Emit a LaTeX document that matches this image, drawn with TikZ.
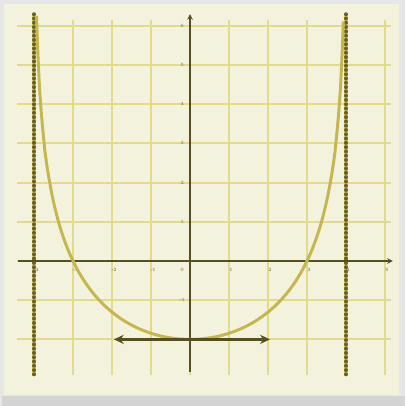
\documentclass[tikz,border=0pt]{standalone}
\usetikzlibrary{arrows.meta}
\definecolor{outerbg}{RGB}{230,230,230}
\definecolor{panel}{RGB}{243,242,220}
\definecolor{gridc}{RGB}{226,219,142}
\definecolor{axisc}{RGB}{86,80,32}
\definecolor{curvec}{RGB}{198,182,80}
\definecolor{asymy}{RGB}{214,200,100}
\definecolor{asymd}{RGB}{105,96,38}
\definecolor{labc}{RGB}{140,135,85}
\definecolor{shadowc}{RGB}{212,212,212}
\tikzset{
  gridline/.style={draw=gridc, line width=3pt},
  axisline/.style={draw=axisc, line width=3.2pt},
  curveline/.style={draw=curvec, line width=4.2pt},
  asymbase/.style={draw=asymy, line width=6pt},
  asymdots/.style={draw=asymd, line width=5pt, line cap=round, dash pattern=on 0.5pt off 5.6pt},
  ticklab/.style={font=\fontsize{7}{7}\selectfont\bfseries, text=labc, inner sep=0pt},
  hlabel/.style={draw=axisc, line width=3.4pt, {Stealth[length=14pt,width=13pt]}-{Stealth[length=14pt,width=13pt]}}
}
\begin{document}
\begin{tikzpicture}[x=0.05cm,y=-0.05cm]
  % background
  \useasboundingbox (0,0) rectangle (405,406);
  \fill[outerbg] (0,0) rectangle (405,406);
  \fill[shadowc] (2,396) rectangle (405,406);
  \fill[panel] (4,4) rectangle (399,395);
  \begin{scope}[shift={(190,261)}, x=1.95cm, y=1.96cm]
    % grid
    \foreach \gx in {-4,-3,...,5} \draw[gridline] (\gx,6.15) -- (\gx,-2.9);
    \foreach \gy in {-2,-1,...,6} \draw[gridline] (-4.44,\gy) -- (5.15,\gy);
    % asymptotes
    \draw[asymbase] (-4,6.3) -- (-4,-2.9);
    \draw[asymdots] (-4,6.3) -- (-4,-2.9);
    \draw[asymbase] (4,6.3) -- (4,-2.9);
    \draw[asymdots] (4,6.3) -- (4,-2.9);
    % axes
    \coordinate (xl) at (-4.4,0);
    \coordinate (xr) at (5.2,0);
    \coordinate (yb) at (0,-2.83);
    \coordinate (yt) at (0,6.3);
    \draw[axisline, -{Stealth[length=8pt,width=8pt]}] (xl) -- (xr);
    \draw[axisline, -{Stealth[length=8pt,width=8pt]}] (yb) -- (yt);
    % tick labels
    \foreach \lx in {-4,-3,-2,-1,1,2,3,4,5}
      \node[ticklab] (lx\lx) at (\lx+0.05,-0.22) {\lx};
    \node[ticklab] (l0) at (-0.2,-0.22) {0};
    \foreach \ly in {1,...,6}
      \node[ticklab] (ly\ly) at (-0.2,\ly) {\ly};
    \node[ticklab] (lym1) at (-0.2,-1) {-1};
    \node[ticklab] (lym2) at (-0.2,-2) {-2};
    % curve
    \draw[curveline, samples=300, domain=-3.935:3.935, smooth]
      plot (\x, {-2-2.42*ln(1-\x*\x/16)});
    % horizontal double arrow
    \coordinate (al) at (-1.95,-2);
    \coordinate (ar) at (2.05,-2);
    \draw[hlabel] (al) -- (ar);
  \end{scope}
\end{tikzpicture}
\end{document}
